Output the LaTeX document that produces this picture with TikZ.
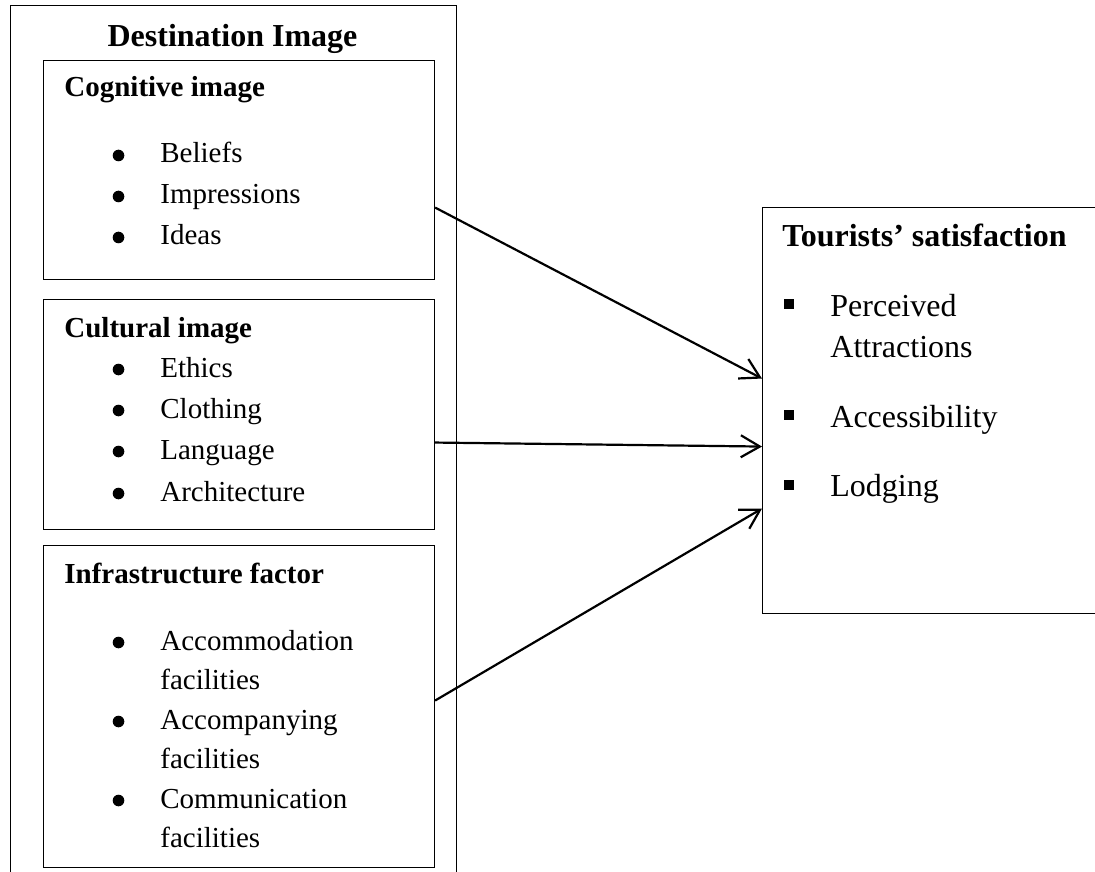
\documentclass[tikz,border=0pt]{standalone}
\usepackage{fontspec}
\setmainfont{Liberation Serif}
\usetikzlibrary{arrows.meta}

\begin{document}
\begin{tikzpicture}[x=0.5pt,y=-0.5pt,
    box/.style={draw,line width=0.55pt,inner sep=0pt,anchor=north west},
    head/.style={font=\fontsize{14.5}{17}\selectfont\bfseries,inner sep=0pt,anchor=base west},
    item/.style={font=\fontsize{14.5}{17}\selectfont,inner sep=0pt,anchor=base west},
    bighead/.style={font=\fontsize{16}{19}\selectfont\bfseries,inner sep=0pt,anchor=base west},
    bigitem/.style={font=\fontsize{16}{19}\selectfont,inner sep=0pt,anchor=base west},
    dot/.style={circle,fill=black,inner sep=0pt,minimum size=5.8pt},
    sqdot/.style={rectangle,fill=black,inner sep=0pt,minimum size=5pt},
    conn/.style={line width=1.1pt,-{Straight Barb[length=9.5pt,width=11pt]}}]

\useasboundingbox (0,0) rectangle (1095,871);
\clip (0,0) rectangle (1095,871);

% Outer frame of destination image
\node[box,minimum width=223pt,minimum height=460pt] (dest) at (9.5,5) {};
\node[bighead,anchor=base] (desttitle) at (232.5,47) {Destination Image};

% Cognitive image
\node[box,minimum width=195.5pt,minimum height=109.5pt] (cog) at (43,60) {};
\node[head] (coghead) at (64,97) {Cognitive image};
\node[dot] (cogb1) at (118.5,155.5) {}; \node[item] (cogi1) at (160,163) {Beliefs};
\node[dot] (cogb2) at (118.5,196.5) {}; \node[item] (cogi2) at (160,204) {Impressions};
\node[dot] (cogb3) at (118.5,237.5) {}; \node[item] (cogi3) at (160,245) {Ideas};

% Cultural image
\node[box,minimum width=195.5pt,minimum height=115pt] (cult) at (43,299) {};
\node[head] (culthead) at (64,337) {Cultural image};
\node[dot] (cultb1) at (118.5,369.5) {}; \node[item] (culti1) at (160,377) {Ethics};
\node[dot] (cultb2) at (118.5,410.5) {}; \node[item] (culti2) at (160,418) {Clothing};
\node[dot] (cultb3) at (118.5,451.5) {}; \node[item] (culti3) at (160,459) {Language};
\node[dot] (cultb4) at (118.5,493.5) {}; \node[item] (culti4) at (160,501) {Architecture};

% Infrastructure factor
\node[box,minimum width=195.5pt,minimum height=161pt] (infra) at (43,545) {};
\node[head] (infrahead) at (64,583) {Infrastructure factor};
\node[dot] (infrab1) at (118.5,642.5) {}; \node[item] (infrai1) at (160,650) {Accommodation};
\node[item] (infrai1b) at (160,689.5) {facilities};
\node[dot] (infrab2) at (118.5,721.5) {}; \node[item] (infrai2) at (160,729) {Accompanying};
\node[item] (infrai2b) at (160,768.5) {facilities};
\node[dot] (infrab3) at (118.5,800.5) {}; \node[item] (infrai3) at (160,808) {Communication};
\node[item] (infrai3b) at (160,847.5) {facilities};

% Tourists' satisfaction
\node[box,minimum width=180pt,minimum height=203pt] (sat) at (762,207) {};
\node[bighead] (sathead) at (782,247) {Tourists’ satisfaction};
\node[sqdot] (satb1) at (789,304) {}; \node[bigitem] (sati1) at (830,316) {Perceived};
\node[bigitem] (sati1b) at (830,357) {Attractions};
\node[sqdot] (satb2) at (789,415) {}; \node[bigitem] (sati2) at (830,427) {Accessibility};
\node[sqdot] (satb3) at (789,484.5) {}; \node[bigitem] (sati3) at (830,496) {Lodging};

% links
\draw[conn] ([yshift=-18.75pt]cog.east) -- ([yshift=16pt]sat.west);
\draw[conn] ([yshift=-14pt]cult.east) -- ([yshift=-18pt]sat.west);
\draw[conn] ([yshift=3pt]infra.east) -- ([yshift=-49pt]sat.west);

\end{tikzpicture}
\end{document}
